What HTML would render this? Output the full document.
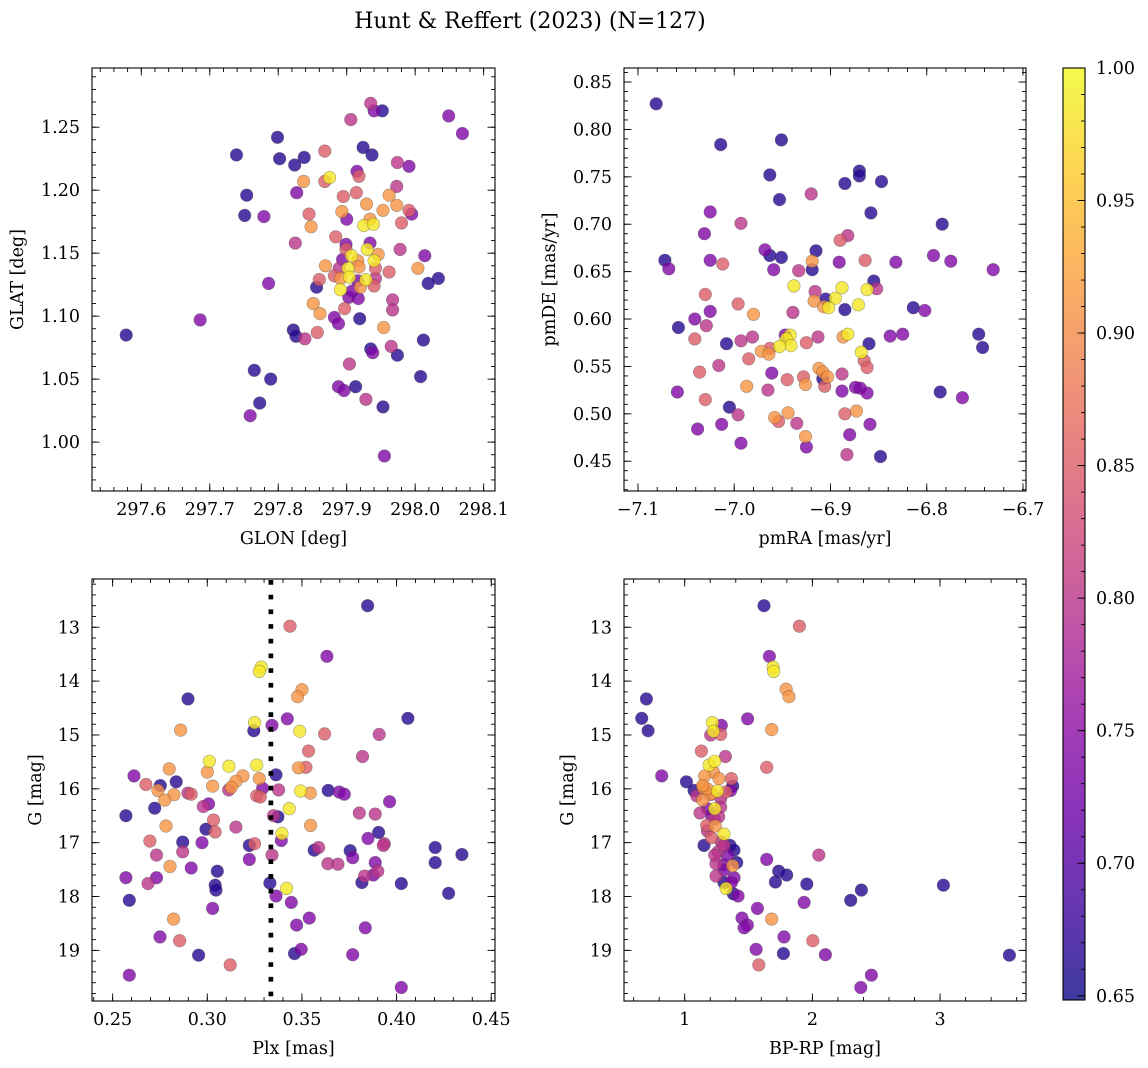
<!DOCTYPE html>
<html><head><meta charset="utf-8"><style>
html,body{margin:0;padding:0;background:#fff;}
svg{display:block;font-family:"DejaVu Serif","Liberation Serif",serif;}
</style></head><body>
<svg id="fig" width="1148" height="1068" viewBox="0 0 1148 1068" xmlns="http://www.w3.org/2000/svg">
<text x="530" y="28" font-size="22" text-anchor="middle">Hunt &amp; Reffert (2023) (N=127)</text>
<defs><linearGradient id="cbgrad" x1="0" y1="1" x2="0" y2="0"></linearGradient></defs>
</svg>
<script>
// ---------- Panel 1 data: GLON / GLAT ----------
const p1Glon=[297.935,297.940,297.952,297.906,298.049,298.069,297.799,297.739,297.802,297.838,297.824,297.868,297.924,297.937,297.974,297.991,297.915,297.918,297.875,297.868,297.837,297.973,297.827,297.895,297.914,297.962,297.754,297.929,297.973,297.893,297.953,297.991,297.995,297.751,297.779,297.845,297.900,297.934,297.925,297.939,297.980,297.848,297.884,297.825,297.899,297.934,297.978,297.930,297.946,297.899,298.014,297.907,297.894,297.916,297.940,297.869,297.918,297.902,297.889,297.942,298.004,297.962,297.882,297.891,297.904,297.928,297.942,297.860,298.034,298.019,297.786,297.856,297.891,297.920,297.940,297.903,297.917,297.967,297.851,297.967,297.897,297.861,297.882,297.888,297.919,297.686,297.954,297.578,297.822,297.826,297.839,297.857,298.012,297.965,297.935,297.938,297.974,297.904,297.765,297.789,298.008,297.888,297.896,297.913,297.928,297.953,297.773,297.759,297.955,297.916,297.908];
const p1Glat=[1.269,1.263,1.263,1.256,1.259,1.245,1.242,1.228,1.225,1.226,1.220,1.231,1.234,1.228,1.222,1.219,1.215,1.211,1.210,1.207,1.207,1.203,1.198,1.195,1.198,1.196,1.196,1.189,1.188,1.183,1.184,1.184,1.181,1.180,1.179,1.181,1.177,1.177,1.172,1.173,1.174,1.171,1.163,1.158,1.157,1.158,1.153,1.153,1.149,1.153,1.148,1.148,1.145,1.144,1.144,1.140,1.139,1.138,1.138,1.138,1.138,1.135,1.132,1.130,1.131,1.129,1.130,1.129,1.130,1.126,1.126,1.123,1.121,1.123,1.124,1.115,1.114,1.113,1.110,1.105,1.106,1.102,1.099,1.094,1.098,1.097,1.091,1.085,1.089,1.084,1.082,1.087,1.081,1.076,1.074,1.071,1.069,1.062,1.057,1.050,1.052,1.044,1.041,1.044,1.034,1.028,1.031,1.021,0.989,1.128,1.120];
const p1Prob=[.80,.74,.665,.80,.74,.74,.665,.665,.665,.665,.665,.85,.665,.665,.80,.74,.74,.85,.985,.85,.91,.80,.74,.85,.85,.91,.665,.91,.91,.91,.91,.85,.74,.665,.74,.85,.74,.91,.985,.985,.85,.91,.85,.80,.74,.74,.80,.985,.91,.85,.74,.985,.74,.91,.985,.91,.91,.985,.80,.85,.91,.85,.85,.91,.985,.985,.80,.85,.665,.665,.74,.665,.985,.91,.85,.74,.74,.80,.91,.80,.85,.91,.74,.74,.665,.74,.91,.665,.665,.665,.80,.85,.665,.80,.665,.74,.665,.80,.665,.665,.665,.74,.74,.665,.80,.665,.665,.74,.74,.74,.74];
const p1XTicks=[297.6,297.7,297.8,297.9,298.0,298.1];
const p1XTickLabels=["297.6","297.7","297.8","297.9","298.0","298.1"];
const p1YTicks=[1.00,1.05,1.10,1.15,1.20,1.25];
const p1YTickLabels=["1.00","1.05","1.10","1.15","1.20","1.25"];

// ---------- Panel 2 data: pmRA / pmDE ----------
const p2Pmra=[-7.081,-7.014,-6.951,-6.963,-6.953,-6.920,-6.870,-6.870,-6.885,-6.847,-7.025,-6.858,-6.784,-6.993,-7.031,-6.890,-6.882,-6.968,-6.963,-6.951,-6.915,-7.072,-7.068,-7.025,-7.012,-6.959,-6.933,-6.919,-6.919,-6.891,-6.864,-6.832,-6.793,-6.775,-6.731,-6.855,-6.852,-6.862,-6.938,-6.916,-6.905,-6.888,-6.895,-6.917,-6.907,-6.902,-6.885,-6.871,-6.814,-6.802,-7.030,-7.025,-6.996,-6.980,-6.939,-7.041,-7.029,-7.058,-6.882,-6.887,-6.913,-6.925,-6.838,-6.825,-6.860,-6.746,-6.742,-7.041,-7.008,-6.993,-6.981,-6.947,-6.942,-6.946,-6.941,-6.953,-6.963,-6.972,-6.964,-6.985,-6.868,-6.865,-6.862,-7.016,-7.036,-6.961,-6.912,-6.908,-6.903,-6.908,-6.888,-6.928,-6.945,-6.926,-6.906,-6.987,-6.965,-7.059,-6.888,-6.874,-6.869,-6.862,-6.786,-6.763,-7.030,-7.005,-6.996,-6.958,-6.954,-6.944,-6.935,-6.885,-6.873,-6.859,-7.038,-7.013,-6.993,-6.926,-6.925,-6.880,-6.883,-6.848];
const p2Pmde=[0.827,0.784,0.789,0.752,0.726,0.732,0.756,0.751,0.743,0.745,0.713,0.712,0.700,0.701,0.690,0.683,0.688,0.673,0.667,0.665,0.672,0.662,0.653,0.662,0.658,0.652,0.651,0.661,0.652,0.660,0.662,0.660,0.667,0.661,0.652,0.640,0.632,0.631,0.635,0.629,0.621,0.633,0.622,0.619,0.613,0.612,0.610,0.615,0.612,0.609,0.626,0.608,0.616,0.605,0.607,0.600,0.593,0.591,0.584,0.581,0.581,0.575,0.582,0.584,0.574,0.584,0.570,0.579,0.574,0.577,0.581,0.583,0.583,0.579,0.572,0.571,0.569,0.566,0.563,0.558,0.565,0.556,0.549,0.551,0.544,0.543,0.548,0.544,0.539,0.537,0.542,0.539,0.536,0.531,0.529,0.529,0.525,0.523,0.524,0.528,0.527,0.522,0.523,0.517,0.515,0.507,0.499,0.496,0.492,0.501,0.490,0.500,0.503,0.489,0.484,0.489,0.469,0.476,0.465,0.478,0.457,0.455];
const p2Prob=[.665,.665,.665,.665,.665,.80,.665,.665,.665,.665,.74,.665,.665,.80,.74,.85,.80,.74,.665,.665,.665,.665,.74,.74,.85,.74,.80,.91,.665,.74,.85,.74,.74,.74,.74,.665,.80,.985,.985,.80,.665,.985,.985,.91,.91,.985,.665,.985,.665,.74,.85,.74,.85,.91,.80,.74,.80,.665,.985,.91,.80,.85,.74,.74,.665,.665,.665,.85,.665,.80,.80,.74,.985,.985,.985,.985,.85,.91,.91,.85,.985,.85,.85,.80,.85,.74,.91,.91,.91,.665,.80,.85,.85,.91,.85,.91,.80,.74,.74,.74,.74,.74,.665,.74,.85,.665,.80,.91,.85,.91,.80,.85,.91,.74,.74,.74,.74,.91,.74,.74,.80,.665];
const p2XTicks=[-7.1,-7.0,-6.9,-6.8,-6.7];
const p2XTickLabels=["\u22127.1","\u22127.0","\u22126.9","\u22126.8","\u22126.7"];
const p2YTicks=[0.45,0.50,0.55,0.60,0.65,0.70,0.75,0.80,0.85];
const p2YTickLabels=["0.45","0.50","0.55","0.60","0.65","0.70","0.75","0.80","0.85"];

// ---------- Panel 3 data: Plx / G ----------
const p3Plx=[0.3847,0.3437,0.3632,0.3285,0.3275,0.3500,0.3477,0.2898,0.4060,0.3423,0.3250,0.3246,0.3342,0.2859,0.3488,0.3620,0.3908,0.3535,0.3820,0.3011,0.3000,0.2799,0.3114,0.3261,0.3482,0.3521,0.3363,0.3188,0.3151,0.3275,0.2613,0.2676,0.2752,0.2836,0.2739,0.3028,0.3127,0.3113,0.3292,0.3377,0.3493,0.3544,0.3639,0.3697,0.3724,0.2898,0.2915,0.2824,0.2775,0.3261,0.3280,0.2722,0.2979,0.3007,0.3963,0.2570,0.3433,0.3350,0.3373,0.3803,0.3887,0.3033,0.2782,0.3151,0.3546,0.2993,0.3042,0.3394,0.3391,0.3905,0.3849,0.2697,0.2870,0.2972,0.3222,0.3250,0.3935,0.3930,0.3588,0.3565,0.3755,0.3768,0.4204,0.4345,0.4204,0.2732,0.2870,0.3222,0.3342,0.3637,0.3690,0.3887,0.2803,0.2915,0.3053,0.3901,0.2570,0.2732,0.2687,0.3831,0.3877,0.3817,0.4025,0.3042,0.3046,0.3331,0.3419,0.2588,0.3363,0.3444,0.4275,0.3028,0.2822,0.3539,0.3472,0.3835,0.2750,0.2854,0.2954,0.3461,0.3496,0.3768,0.3121,0.2588,0.4025];
const p3G=[12.60,12.98,13.54,13.74,13.82,14.16,14.29,14.33,14.69,14.70,14.77,14.92,14.82,14.91,14.93,14.98,14.99,15.30,15.40,15.49,15.69,15.63,15.58,15.56,15.61,15.60,15.74,15.76,15.86,15.81,15.76,15.92,15.94,15.87,16.03,15.95,15.97,16.02,15.99,16.02,16.04,16.08,16.03,16.06,16.10,16.08,16.10,16.11,16.21,16.13,16.15,16.36,16.33,16.28,16.24,16.50,16.37,16.50,16.52,16.45,16.47,16.58,16.69,16.71,16.68,16.75,16.80,16.83,16.96,16.81,16.92,16.97,16.99,17.00,17.05,17.02,17.02,17.05,17.09,17.14,17.15,17.28,17.09,17.22,17.37,17.23,17.17,17.31,17.23,17.39,17.40,17.37,17.44,17.47,17.53,17.53,17.65,17.65,17.76,17.62,17.60,17.74,17.76,17.79,17.88,17.75,17.85,18.07,17.99,18.11,17.94,18.22,18.42,18.40,18.53,18.58,18.75,18.82,19.09,19.06,18.98,19.08,19.27,19.46,19.69];
const p3Prob=[.665,.85,.74,.985,.985,.91,.91,.665,.665,.74,.985,.665,.74,.91,.985,.85,.80,.85,.80,.985,.91,.91,.985,.985,.91,.85,.665,.91,.91,.91,.74,.85,.665,.665,.91,.91,.91,.80,.74,.80,.985,.91,.665,.74,.74,.80,.85,.91,.91,.85,.85,.665,.80,.74,.74,.665,.985,.80,.665,.80,.80,.85,.91,.80,.91,.665,.85,.985,.74,.665,.74,.85,.665,.74,.665,.85,.80,.80,.80,.665,.665,.74,.665,.665,.665,.80,.80,.74,.80,.80,.80,.74,.91,.74,.665,.80,.74,.74,.80,.80,.74,.665,.665,.665,.665,.665,.985,.665,.74,.74,.665,.74,.91,.74,.74,.74,.74,.85,.665,.665,.74,.74,.85,.74,.74];
const p3RefPlx=[0.3336];
const p3XTicks=[0.25,0.30,0.35,0.40,0.45];
const p3XTickLabels=["0.25","0.30","0.35","0.40","0.45"];
const magTicks=[13,14,15,16,17,18,19];
const magTickLabels=["13","14","15","16","17","18","19"];

// ---------- Panel 4 data: BP-RP / G ----------
const p4Bprp=[1.621,1.898,1.663,1.692,1.697,1.794,1.817,0.700,0.663,1.493,0.713,1.287,1.217,1.681,1.225,1.204,1.282,1.131,1.319,1.642,1.191,1.235,1.225,1.157,0.820,1.013,1.366,1.376,1.073,1.144,1.256,1.209,1.360,1.094,1.141,1.282,1.178,1.235,1.282,1.120,1.209,1.266,1.240,1.178,1.308,1.209,1.151,1.287,1.355,1.386,1.261,1.334,1.407,1.376,1.245,1.303,1.245,1.386,1.308,1.366,1.324,1.381,1.418,1.642,1.736,1.799,1.710,1.956,2.050,2.384,2.300,3.026,1.935,1.569,1.681,1.449,1.491,1.465,1.778,2.003,1.559,1.773,2.102,1.580,3.543,2.462,2.379,1.178,1.141,1.198,1.230,1.172,1.308,1.235,1.308,1.269,1.321];
const p4G=[12.60,12.98,13.54,13.74,13.82,14.15,14.29,14.33,14.69,14.70,14.92,14.82,14.77,14.90,14.93,15.00,14.99,15.30,15.40,15.60,15.56,15.49,15.69,15.76,15.76,15.87,15.81,15.95,16.03,15.98,16.04,16.09,16.03,16.13,16.21,16.18,16.37,16.37,16.34,16.45,16.49,16.52,16.69,16.78,16.84,16.91,17.05,16.99,17.05,17.14,17.17,17.23,17.37,17.43,17.39,17.41,17.62,17.65,17.74,17.74,17.85,17.95,17.99,17.31,17.53,17.60,17.73,17.77,17.23,17.88,18.07,17.79,18.11,18.22,18.42,18.40,18.53,18.58,18.75,18.82,18.98,19.06,19.08,19.27,19.09,19.46,19.69,16.00,15.94,16.11,16.56,16.68,17.05,17.23,17.51,15.81,16.06];
const p4Prob=[.665,.85,.74,.985,.985,.91,.91,.665,.665,.74,.665,.74,.985,.91,.985,.80,.85,.85,.80,.85,.985,.985,.91,.91,.74,.665,.85,.665,.665,.91,.985,.91,.74,.80,.91,.80,.74,.985,.80,.80,.74,.80,.91,.80,.985,.85,.665,.80,.665,.665,.80,.74,.665,.91,.80,.74,.80,.74,.665,.74,.985,.665,.74,.74,.665,.665,.665,.665,.80,.665,.665,.665,.74,.74,.91,.74,.74,.74,.74,.85,.74,.665,.74,.85,.665,.74,.74,.91,.91,.85,.80,.85,.80,.80,.74,.91,.85];
const p4XTicks=[1,2,3];
const p4XTickLabels=["1","2","3"];

// ---------- Colorbar ----------
const cbTicks=[0.65,0.70,0.75,0.80,0.85,0.90,0.95,1.00];
const cbTickLabels=["0.65","0.70","0.75","0.80","0.85","0.90","0.95","1.00"];
const cbMin=0.6484, cbMax=1.0;

const NS="http://www.w3.org/2000/svg";
const svg=document.getElementById('fig');
function mk(tag,attrs,parent){const e=document.createElementNS(NS,tag);for(const k in attrs)e.setAttribute(k,attrs[k]);(parent||svg).appendChild(e);return e;}

const plasma=[[13,8,135],[65,4,157],[106,0,168],[143,13,164],[177,42,144],[204,71,120],[225,100,98],[242,132,75],[252,166,54],[252,206,37],[240,249,33]];
function cmap(t){t=Math.max(0,Math.min(1,t));const s=t*10;const i=Math.min(9,Math.floor(s));const f=s-i;const a=plasma[i],b=plasma[i+1];
 return 'rgb('+[0,1,2].map(k=>Math.round(a[k]+(b[k]-a[k])*f)).join(',')+')';}
function norm(v){return (v-cbMin)/(cbMax-cbMin);}

function makeScale(d0,d1,p0,p1){return v=>p0+(v-d0)/(d1-d0)*(p1-p0);}
function range(a,b,s){const r=[];const n=Math.round((b-a)/s);for(let i=0;i<=n;i++)r.push(a+i*s);return r;}

function panel(cfg){
 const g=mk('g',{});
 
 
 const {L,R,T,B}=cfg;
 const sx=makeScale(cfg.xd[0],cfg.xd[1],L,R);
 const sy=makeScale(cfg.yd[0],cfg.yd[1],B,T);
 const n=Math.min(cfg.xs.length,cfg.ys.length,cfg.cs.length);
 const idx=[];for(let i=0;i<n;i++)idx.push(i);
 idx.sort((a,b)=>cfg.cs[a]-cfg.cs[b]);
 const pg=mk('g',{},g);
 
 
 idx.forEach(i=>{
  const c=mk('circle',{cx:sx(cfg.xs[i]).toFixed(1),cy:sy(cfg.ys[i]).toFixed(1),r:6.3,fill:cmap(norm(cfg.cs[i])),'fill-opacity':0.8,stroke:'rgba(60,60,60,0.45)','stroke-width':0.6},pg);
  
  
 });
 if(cfg.extra)cfg.extra(g,sx,sy);
 const fr=mk('rect',{x:L,y:T,width:R-L,height:B-T,fill:'none',stroke:'#000','stroke-width':1.1},g);
 
 
 const tk=mk('g',{stroke:'#000','stroke-width':0.9},g);
 
 
 const xmin=Math.min(cfg.xd[0],cfg.xd[1]),xmax=Math.max(cfg.xd[0],cfg.xd[1]);
 const ymin=Math.min(cfg.yd[0],cfg.yd[1]),ymax=Math.max(cfg.yd[0],cfg.yd[1]);
 range(cfg.xMinorStart,xmax,cfg.xMinor).forEach(v=>{if(v<xmin||v>xmax)return;const x=sx(v);mk('line',{x1:x,y1:B,x2:x,y2:B-4},tk);mk('line',{x1:x,y1:T,x2:x,y2:T+4},tk);});
 range(cfg.yMinorStart,ymax,cfg.yMinor).forEach(v=>{if(v<ymin||v>ymax)return;const y=sy(v);mk('line',{x1:L,y1:y,x2:L+4,y2:y},tk);mk('line',{x1:R,y1:y,x2:R-4,y2:y},tk);});
 cfg.xt.forEach((v,i)=>{const x=sx(v);mk('line',{x1:x,y1:B,x2:x,y2:B-7.5},tk);mk('line',{x1:x,y1:T,x2:x,y2:T+7.5},tk);
  const t=mk('text',{x:x,y:B+24,'font-size':17.5,'text-anchor':'middle'},g);t.textContent=cfg.xl[i];
  
  });
 cfg.yt.forEach((v,i)=>{const y=sy(v);mk('line',{x1:L,y1:y,x2:L+7.5,y2:y},tk);mk('line',{x1:R,y1:y,x2:R-7.5,y2:y},tk);
  const t=mk('text',{x:L-12,y:y+6,'font-size':17.5,'text-anchor':'end'},g);t.textContent=cfg.yl[i];
  
  });
 const xt=mk('text',{x:(L+R)/2,y:B+53,'font-size':17.5,'text-anchor':'middle'},g);xt.textContent=cfg.xlabel;
 
 
 const yt=mk('text',{x:0,y:0,'font-size':17.5,'text-anchor':'middle',transform:'translate('+cfg.ylx+','+((T+B)/2)+') rotate(-90)'},g);yt.textContent=cfg.ylabel;
 
 
}

panel({name:'glon-glat-panel',L:92,R:495,T:68,B:491,xd:[297.528,298.1166],yd:[0.9612,1.297],
 xs:p1Glon,ys:p1Glat,cs:p1Prob,xt:p1XTicks,xl:p1XTickLabels,yt:p1YTicks,yl:p1YTickLabels,
 xMinor:0.02,xMinorStart:297.52,yMinor:0.01,yMinorStart:0.96,xlabel:'GLON [deg]',ylabel:'GLAT [deg]',ylx:23});
panel({name:'proper-motion-panel',L:624,R:1026,T:68,B:491,xd:[-7.1145,-6.6969],yd:[0.4186,0.8648],
 xs:p2Pmra,ys:p2Pmde,cs:p2Prob,xt:p2XTicks,xl:p2XTickLabels,yt:p2YTicks,yl:p2YTickLabels,
 xMinor:0.02,xMinorStart:-7.12,yMinor:0.01,yMinorStart:0.41,xlabel:'pmRA [mas/yr]',ylabel:'pmDE [mas/yr]',ylx:555});
panel({name:'parallax-mag-panel',L:92,R:495,T:579,B:1001,xd:[0.2391,0.452],yd:[19.94,12.104],
 xs:p3Plx,ys:p3G,cs:p3Prob,xt:p3XTicks,xl:p3XTickLabels,yt:magTicks,yl:magTickLabels,
 xMinor:0.01,xMinorStart:0.24,yMinor:0.2,yMinorStart:12.2,xlabel:'Plx [mas]',ylabel:'G [mag]',ylx:41,
 extra:(g,sx,sy)=>{p3RefPlx.forEach(v=>{const l=mk('line',{x1:sx(v),y1:580,x2:sx(v),y2:1000,stroke:'#000','stroke-width':4.7,'stroke-dasharray':'4.7,10'},g);
  
  });}});
panel({name:'color-mag-panel',L:624,R:1026,T:579,B:1001,xd:[0.5246,3.673],yd:[19.94,12.104],
 xs:p4Bprp,ys:p4G,cs:p4Prob,xt:p4XTicks,xl:p4XTickLabels,yt:magTicks,yl:magTickLabels,
 xMinor:0.2,xMinorStart:0.6,yMinor:0.2,yMinorStart:12.2,xlabel:'BP-RP [mag]',ylabel:'G [mag]',ylx:573});

(function(){
 const grad=document.getElementById('cbgrad');
 for(let i=0;i<=20;i++){const s=document.createElementNS(NS,'stop');s.setAttribute('offset',(i/20));s.setAttribute('stop-color',cmap(i/20));s.setAttribute('stop-opacity',0.8);grad.appendChild(s);}
 const L=1063,R=1085,T=68,B=1000;
 const g=mk('g',{});
 
 
 const sy=makeScale(cbMin,cbMax,B,T);
 mk('rect',{x:L,y:T,width:R-L,height:B-T,fill:'url(#cbgrad)',stroke:'#000','stroke-width':1.1},g);
 range(0.65,1.0,0.01).forEach(v=>{const y=sy(v);mk('line',{x1:R,y1:y,x2:R-4,y2:y,stroke:'#000','stroke-width':0.9},g);});
 cbTicks.forEach((v,i)=>{const y=sy(v);mk('line',{x1:R,y1:y,x2:R-7.5,y2:y,stroke:'#000','stroke-width':0.9},g);
  const t=mk('text',{x:R+11,y:y+6,'font-size':17.5},g);t.textContent=cbTickLabels[i];
  
  });
})();
</script>
</body></html>
